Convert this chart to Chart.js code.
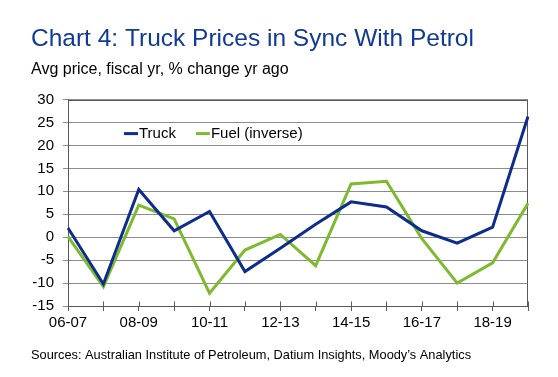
<!DOCTYPE html>
<html>
<head>
<meta charset="utf-8">
<script src="https://cdn.jsdelivr.net/npm/chart.js@4.4.0/dist/chart.umd.min.js"></script>
<style>
  html, body { margin: 0; padding: 0; background: #fff; }
  #wrap { width: 558px; height: 377px; }
</style>
</head>
<body>
<div id="wrap"><canvas id="myChart" width="558" height="377"></canvas></div>
<script>
const years = ['06-07', '07-08', '08-09', '09-10', '10-11', '11-12', '12-13',
  '13-14', '14-15', '15-16', '16-17', '17-18', '18-19', '19-20'];
const truckValues = [2.0, -10.2, 10.4, 1.4, 5.6, -7.5, -2.4, 2.8, 7.7, 6.6, 1.4, -1.3, 2.2, 26.3];
const fuelValues = [0.1, -10.8, 7.0, 4.0, -12.2, -2.8, 0.6, -6.2, 11.6, 12.2, -0.3, -10.0, -5.6, 7.4];
const yMin = -15;
const yMax = 30;
const yStep = 5;

const sourceText = 'Sources: Australian Institute of Petroleum, Datium Insights, Moody\u2019s Analytics';
const fontFamily = '"Liberation Sans", Arial, sans-serif';

Chart.defaults.font.family = fontFamily;
Chart.defaults.color = '#000';

// box round the plot area, and the small x ticks that poke inside it
const plotBox = {
  id: 'plotBox',
  beforeDatasetsDraw(chart) {
    const { ctx, chartArea } = chart;
    ctx.save();
    ctx.strokeStyle = '#595959';
    ctx.lineWidth = 1;
    const l = Math.round(chartArea.left) + 0.5;
    const t = Math.round(chartArea.top) + 0.5;
    const r = Math.round(chartArea.right) - 0.5;
    const b = Math.round(chartArea.bottom) + 0.5;
    ctx.strokeRect(l, t, r - l, b - t);

    const xScale = chart.scales.x;
    ctx.beginPath();
    xScale.ticks.forEach((tk, i) => {
      const px = Math.round(xScale.getPixelForTick(i)) + 0.5;
      ctx.moveTo(px, b);
      ctx.lineTo(px, b - 5);
    });
    ctx.stroke();
    ctx.restore();
  }
};

// legend inside the plot + source line under the chart
const extras = {
  id: 'extras',
  afterDraw(chart) {
    const { ctx, chartArea } = chart;
    ctx.save();
    ctx.font = '15px ' + fontFamily;
    ctx.textBaseline = 'middle';
    let x = chartArea.left + 56;
    const y = chartArea.top + 34;
    chart.data.datasets.forEach(ds => {
      ctx.strokeStyle = ds.borderColor;
      ctx.lineWidth = 3;
      ctx.beginPath();
      ctx.moveTo(x, y);
      ctx.lineTo(x + 14, y);
      ctx.stroke();
      ctx.fillStyle = '#000';
      ctx.fillText(ds.label, x + 15, y);
      x += 15 + ctx.measureText(ds.label).width + 20;
    });

    ctx.font = '12.8px ' + fontFamily;
    ctx.fillText(sourceText, 31, chart.height - 22);
    ctx.restore();
  }
};

new Chart(document.getElementById('myChart'), {
  type: 'line',
  data: {
    labels: years,
    datasets: [
      {
        label: 'Truck',
        data: truckValues,
        borderColor: 'rgb(12, 44, 142)',
        backgroundColor: 'rgb(12, 44, 142)',
        borderWidth: 3,
        pointRadius: 0,
        tension: 0
      },
      {
        label: 'Fuel (inverse)',
        data: fuelValues,
        borderColor: 'rgb(126, 186, 46)',
        backgroundColor: 'rgb(126, 186, 46)',
        borderWidth: 3,
        pointRadius: 0,
        tension: 0
      }
    ]
  },
  options: {
    responsive: false,
    animation: false,
    devicePixelRatio: 1,
    layout: { padding: { left: 31, right: 30, top: 0, bottom: 42 } },
    plugins: {
      legend: { display: false },
      tooltip: { enabled: false },
      title: {
        display: true,
        text: 'Chart 4: Truck Prices in Sync With Petrol',
        align: 'start',
        color: 'rgb(16, 58, 150)',
        font: { size: 24.5, weight: 'normal' },
        padding: { top: 25, bottom: 3 }
      },
      subtitle: {
        display: true,
        text: 'Avg price, fiscal yr, % change yr ago',
        align: 'start',
        color: '#000',
        font: { size: 16, weight: 'normal' },
        padding: { top: 3, bottom: 20 }
      }
    },
    scales: {
      x: {
        offset: false,
        grid: {
          drawOnChartArea: false,
          drawTicks: true,
          tickLength: 5,
          color: '#595959'
        },
        border: { color: '#595959' },
        ticks: {
          autoSkip: false,
          maxRotation: 0,
          padding: 3,
          font: { size: 15 },
          callback: (v, i) => (i % 2 === 0 ? years[i] : '')
        }
      },
      y: {
        min: yMin,
        max: yMax,
        afterFit(scale) { scale.width = 37; },
        grid: {
          color: '#8c8c8c',
          tickLength: 5
        },
        border: { color: '#595959' },
        ticks: {
          stepSize: yStep,
          padding: 9,
          font: { size: 15 }
        }
      }
    }
  },
  plugins: [plotBox, extras]
});
</script>
</body>
</html>
